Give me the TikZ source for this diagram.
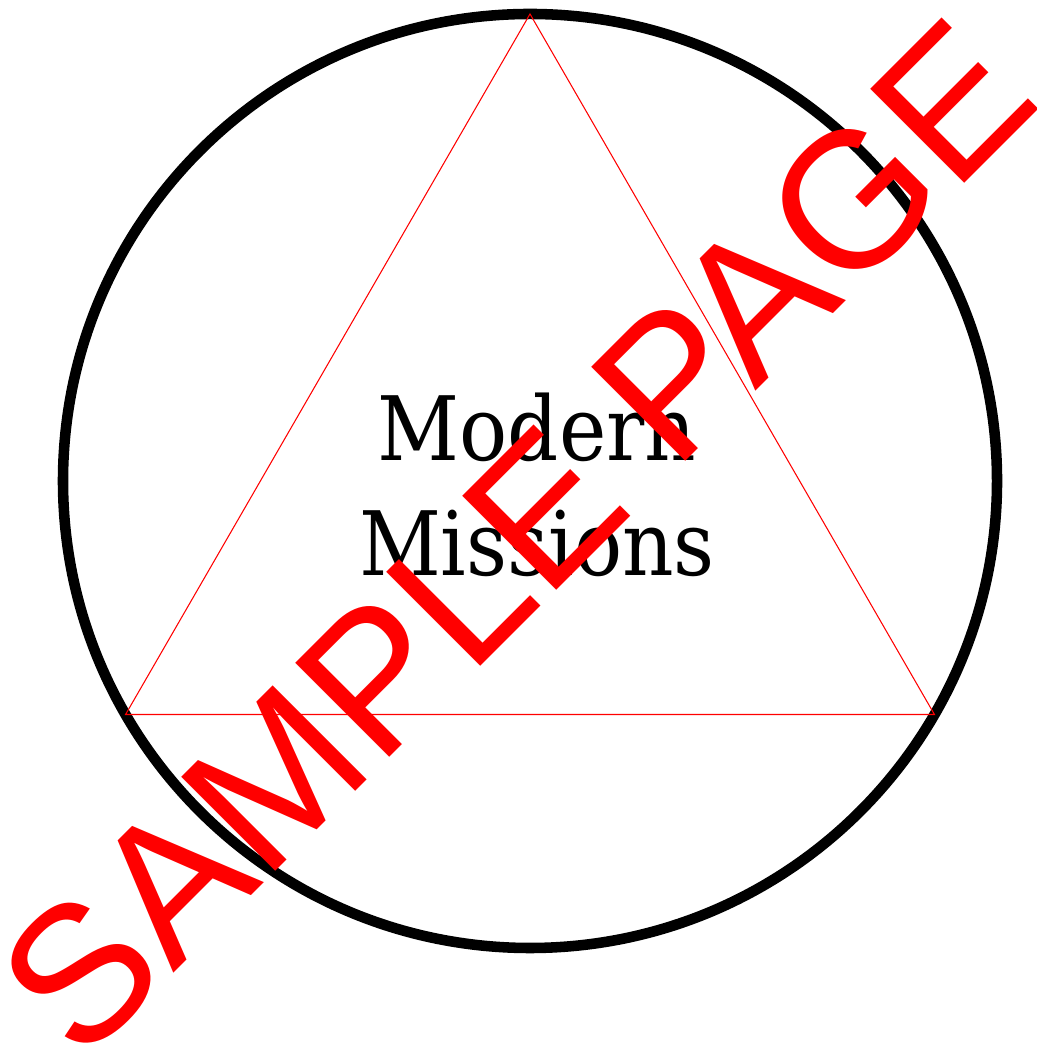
\documentclass[tikz,border=0pt]{standalone}
\usepackage{fontspec}
\usepackage{tikz}
\newfontfamily\missionfont{DejaVu Serif Condensed}
\newfontfamily\stampfont{Liberation Sans}
\definecolor{stampred}{RGB}{255,0,0}

\begin{document}
\begin{tikzpicture}
            \useasboundingbox (0,0) rectangle (10.36,10.49);
            \coordinate (c) at (5.30,5.68);
            \begin{scope}[shift={(c)}]
                \coordinate (apex) at (90:4.67); \coordinate (left) at (210:4.67); \coordinate (right) at (330:4.67);
                \draw[line width=3pt] (0,0) circle (4.67);
                \draw[color=stampred, line width=0.3pt] (apex) -- (left) -- (right) -- cycle;
            \end{scope}
            \node[align=center, font=\missionfont\fontsize{25.3}{32.7}\selectfont] (title) at (5.37,5.64) {Modern\\Missions};
            \node[rotate=45, color=stampred, font=\stampfont\fontsize{55}{60}\selectfont] (stamp) at (5.16,5.12) {SAMPLE PAGE};
        \end{tikzpicture}
\end{document}
